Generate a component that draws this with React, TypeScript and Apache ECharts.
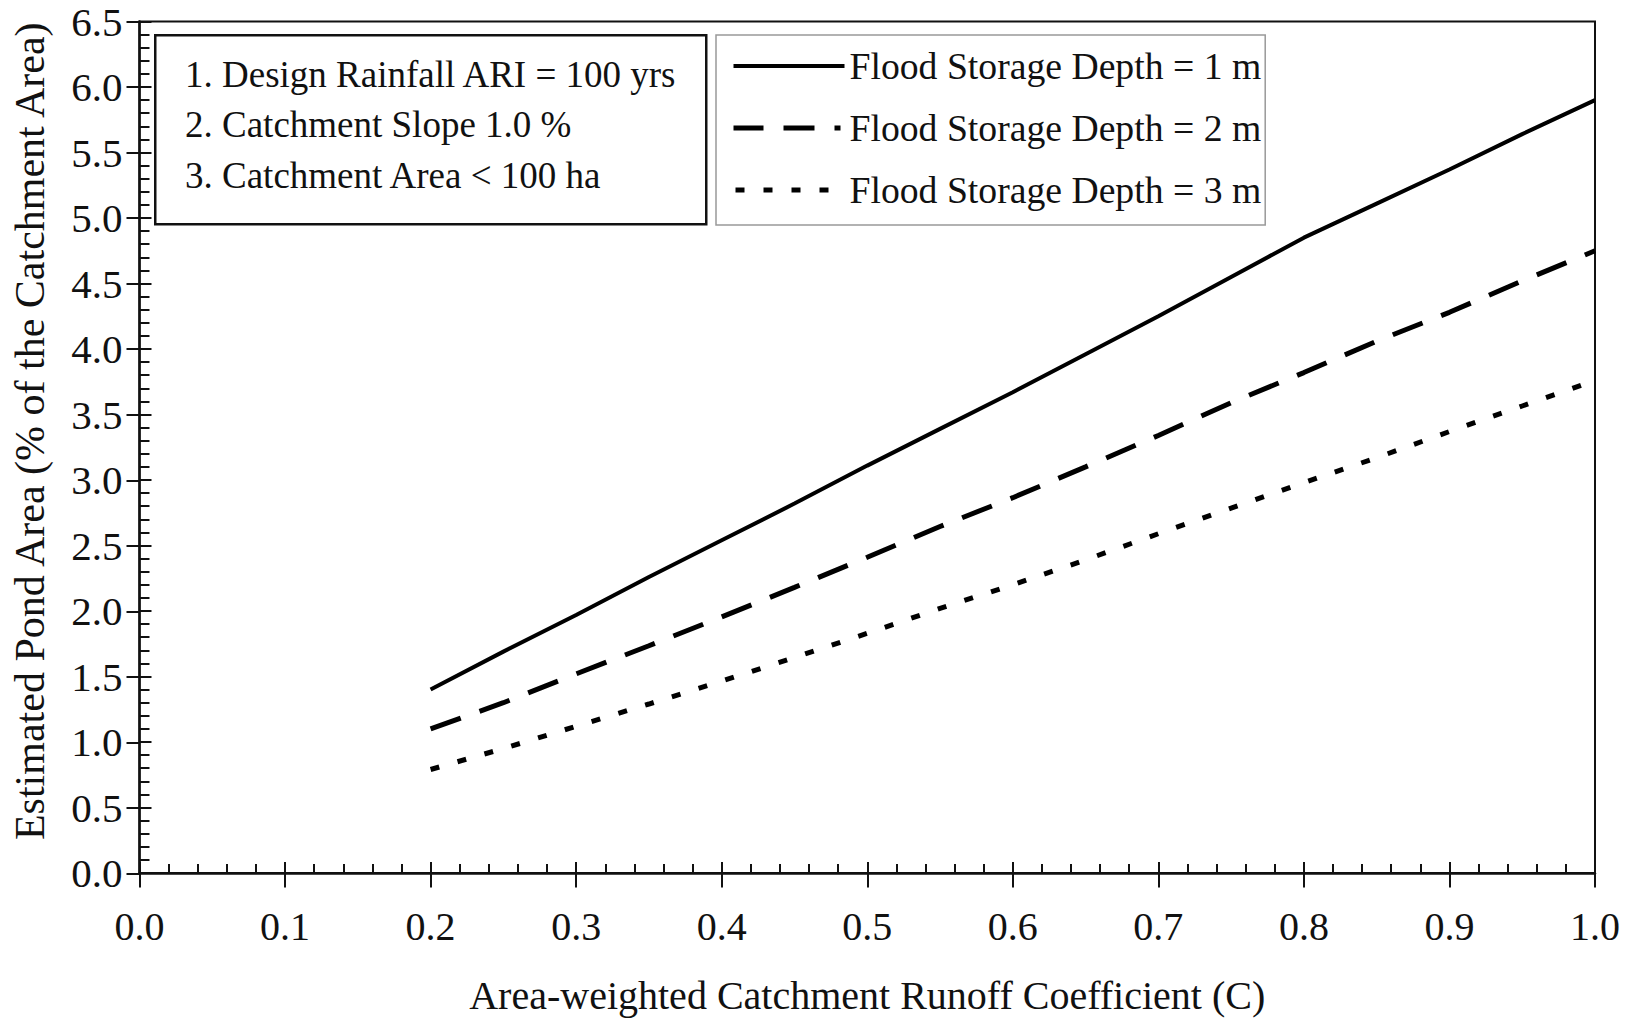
import React, { useEffect, useRef } from "react";
import * as echarts from "echarts";

const FONT = "Liberation Serif";

const xValues = [0.2, 0.25, 0.3, 0.35, 0.4, 0.45, 0.5, 0.55, 0.6, 0.65, 0.7, 0.75, 0.8, 0.85, 0.9, 0.95, 1.0];
const depth1m = [1.4, 1.69, 1.97, 2.26, 2.54, 2.82, 3.11, 3.39, 3.67, 3.96, 4.25, 4.55, 4.85, 5.11, 5.37, 5.64, 5.9];
const depth2m = [1.1, 1.3, 1.52, 1.735, 1.955, 2.18, 2.41, 2.645, 2.865, 3.1, 3.34, 3.59, 3.82, 4.06, 4.28, 4.52, 4.75];
const depth3m = [0.79, 0.95, 1.12, 1.29, 1.465, 1.645, 1.83, 2.02, 2.2, 2.39, 2.59, 2.785, 2.98, 3.17, 3.37, 3.565, 3.76];

const seriesNames = ["Flood Storage Depth = 1 m", "Flood Storage Depth = 2 m", "Flood Storage Depth = 3 m"];
const notes = ["1. Design Rainfall ARI = 100 yrs", "2. Catchment Slope 1.0 %", "3. Catchment Area < 100 ha"];

const xTitle = "Area-weighted Catchment Runoff Coefficient (C)";
const yTitle = "Estimated Pond Area (% of the Catchment Area)";

const xMin = 0, xMax = 1, xStep = 0.1;
const yMin = 0, yMax = 6.5, yStep = 0.5;

const pair = (ys: number[]) => xValues.map((x, i) => [x, ys[i]]);

export default function App() {
  const ref = useRef<HTMLDivElement>(null);
  useEffect(() => {
    if (!ref.current) return;
    const chart = echarts.init(ref.current, null, { renderer: "svg" });
    const grid = { left: 139.5, right: 39, top: 21.5, bottom: 146.5 };
    const textColor = "#111";
    const lbl = { fontFamily: FONT, color: textColor };
    const dash2: number[] = [32, 20];
    const dash3: number[] = [9, 19];
    chart.setOption({
      animation: false,
      backgroundColor: "#fff",
      grid: [
        { ...grid, show: true, borderColor: "#111", borderWidth: 2, backgroundColor: "transparent" },
        { ...grid, show: false },
      ],
      xAxis: [
        {
          type: "value", gridIndex: 0, min: xMin, max: xMax, interval: xStep, position: "bottom",
          axisLine: { show: true, lineStyle: { color: "#111", width: 2.5 } },
          axisTick: { show: true, inside: true, length: 11, lineStyle: { color: "#111", width: 2 } },
          minorTick: { show: true, splitNumber: 5, length: 9, lineStyle: { color: "#111", width: 2 } },
          splitLine: { show: false },
          axisLabel: { ...lbl, fontSize: 40, margin: 33, formatter: (v: number) => v.toFixed(1) },
          name: xTitle, nameLocation: "middle", nameGap: 102,
          nameTextStyle: { ...lbl, fontSize: 40 },
        },
        {
          type: "value", gridIndex: 1, min: xMin, max: xMax, interval: xStep, position: "bottom",
          axisLine: { show: false },
          axisTick: { show: true, inside: false, length: 14, lineStyle: { color: "#111", width: 2 } },
          axisLabel: { show: false }, splitLine: { show: false },
        },
      ],
      yAxis: [
        {
          type: "value", gridIndex: 0, min: yMin, max: yMax, interval: yStep, position: "left",
          axisLine: { show: true, lineStyle: { color: "#111", width: 2.5 } },
          axisTick: { show: true, inside: true, length: 12, lineStyle: { color: "#111", width: 2 } },
          minorTick: { show: true, splitNumber: 5, length: 10, lineStyle: { color: "#111", width: 2 } },
          splitLine: { show: false },
          axisLabel: { ...lbl, fontSize: 41, margin: 17, formatter: (v: number) => v.toFixed(1) },
          name: yTitle, nameLocation: "middle", nameGap: 89, nameRotate: 90,
          nameTextStyle: { ...lbl, fontSize: 42, padding: [0, 0, 0, 32] },
        },
        {
          type: "value", gridIndex: 1, min: yMin, max: yMax, interval: yStep, position: "left",
          axisLine: { show: false },
          axisTick: { show: true, inside: false, length: 13, lineStyle: { color: "#111", width: 2 } },
          axisLabel: { show: false }, splitLine: { show: false },
        },
      ],
      legend: {
        orient: "vertical", left: 716, top: 35,
        padding: [12, 4, 16, 15], itemGap: 24, itemWidth: 111, itemHeight: 14,
        borderColor: "#999", borderWidth: 1.5, backgroundColor: "#fff",
        textStyle: { ...lbl, fontSize: 37.7, lineHeight: 38 },
        itemStyle: { opacity: 0 },
        data: [
          { name: seriesNames[0], lineStyle: { width: 4, type: "solid" } },
          { name: seriesNames[1], lineStyle: { width: 5, type: [30, 20, 31, 20, 6, 10], cap: "butt" } },
          { name: seriesNames[2], lineStyle: { width: 5, type: [9, 19], dashOffset: -2, cap: "butt" } },
        ],
      },
      series: [
        {
          name: seriesNames[0], type: "line", data: pair(depth1m), symbol: "none",
          lineStyle: { color: "#000", width: 4, type: "solid" }, itemStyle: { color: "#000" },
        },
        {
          name: seriesNames[1], type: "line", data: pair(depth2m), symbol: "none",
          lineStyle: { color: "#000", width: 5, type: dash2, cap: "butt" }, itemStyle: { color: "#000" },
        },
        {
          name: seriesNames[2], type: "line", data: pair(depth3m), symbol: "none",
          lineStyle: { color: "#000", width: 5, type: dash3, cap: "butt" }, itemStyle: { color: "#000" },
        },
      ],
      graphic: [
        {
          type: "rect", left: 154, top: 34, z: 10,
          shape: { width: 551, height: 189 },
          style: { fill: "#fff", stroke: "#111", lineWidth: 2.5 },
        },
        ...notes.map((t, i) => ({
          type: "text", x: 185, y: 74 + i * 50.5, z: 11,
          style: { text: t, fontFamily: FONT, fontSize: 37, fill: textColor, verticalAlign: "middle", align: "left" },
        })),
      ],
    });
    return () => chart.dispose();
  }, []);
  return (
    <div
      ref={ref}
      style={{ position: "absolute", left: 0, top: 0, width: 1634, height: 1020, background: "#fff" }}
    />
  );
}
